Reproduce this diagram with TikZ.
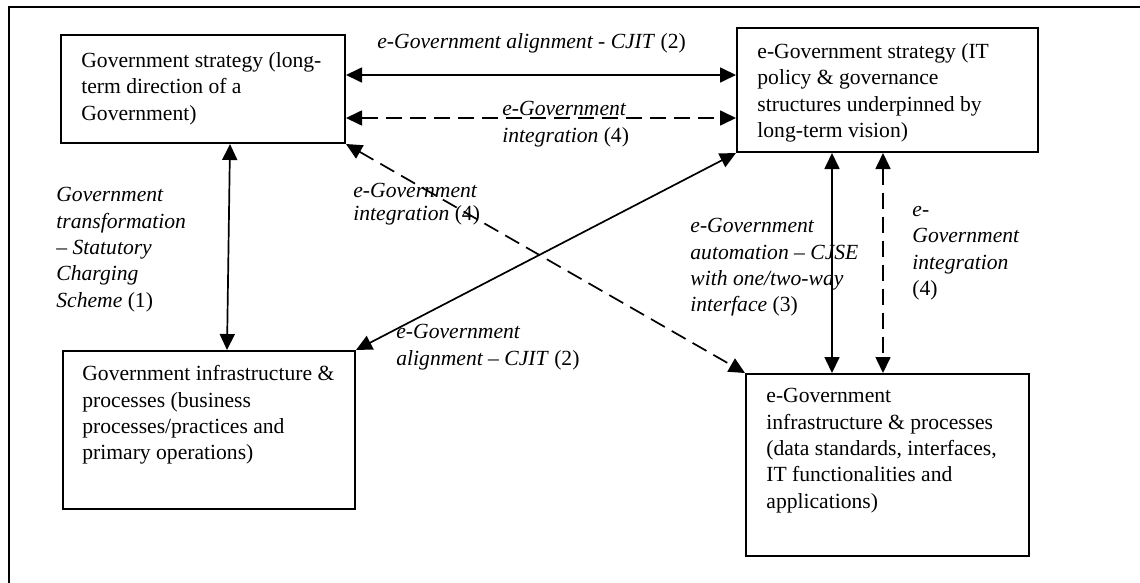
\documentclass[tikz,border=0pt]{standalone}
\usepackage{fontspec}
\setmainfont{Liberation Serif}
\usetikzlibrary{arrows.meta}
\begin{document}
\begin{tikzpicture}[x=0.5pt,y=-0.5pt,
  box/.style={draw,line width=1pt,inner sep=0,rectangle},
  boxtext/.style={anchor=north west,inner sep=0,align=left,font=\fontsize{10.8}{13.2}\selectfont},
  lbl/.style={anchor=north west,inner sep=0,align=left,font=\fontsize{10.8}{13.2}\selectfont\itshape},
  conn/.style={line width=0.85pt,{Triangle[length=8pt,width=7.5pt]}-{Triangle[length=8pt,width=7.5pt]}},
  dconn/.style={conn,dash pattern=on 8pt off 4pt}
]
\useasboundingbox (0,0) rectangle (1140,583);
% outer frame (top and left edges)
\coordinate (fTL) at (9,7);
\coordinate (fTR) at (1140,7);
\coordinate (fBL) at (9,583);
\draw[line width=1.1pt] (fTR) -- (fTL) -- (fBL);

% boxes
\node[box,minimum width=142pt,minimum height=54pt] (A) at (203,89) {};
\node[box,minimum width=150.5pt,minimum height=62pt] (B) at (887.5,90) {};
\node[box,minimum width=146pt,minimum height=79pt] (C) at (209,430) {};
\node[box,minimum width=141.5pt,minimum height=91pt] (D) at (887.5,465) {};

% box texts
\node[boxtext] (At) at ([xshift=10.5pt,yshift=-9pt]A.north west)
  {Government strategy (long-\\term direction of a\\Government)};
\node[boxtext] (Bt) at ([xshift=10.5pt,yshift=-8pt]B.north west)
  {e-Government strategy (IT\\policy \& governance\\structures underpinned by\\long-term vision)};
\node[boxtext] (Ct) at ([xshift=10pt,yshift=-7.5pt]C.north west)
  {Government infrastructure \&\\processes (business\\processes/practices and\\primary operations)};
\node[boxtext] (Dt) at ([xshift=10.5pt,yshift=-7.5pt]D.north west)
  {e-Government\\infrastructure \& processes\\(data standards, interfaces,\\IT functionalities and\\applications)};

% connectors
\draw[conn] ([yshift=7pt]A.east) -- ([yshift=7.5pt]B.west);
\draw[dconn] ([yshift=-14.5pt]A.east) -- ([yshift=-14pt]B.west);
\draw[conn] ([xshift=13.5pt]A.south) -- ([xshift=9pt]C.north);
\draw[conn] (B.south west) -- (C.north east);
\draw[dconn] (A.south east) -- (D.north west);
\draw[conn] ([xshift=-27.75pt]B.south) -- ([xshift=-27.75pt]D.north);
\draw[dconn] ([xshift=-2.25pt]B.south) -- ([xshift=-2.25pt]D.north);

% labels
\node[lbl] (L1) at (377,33) {e-Government alignment - CJIT \textup{(2)}};
\node[lbl] (L2) at (502,101) {e-Government\\integration \textup{(4)}};
\node[lbl,font=\fontsize{10.8}{11.5}\selectfont\itshape] (L3) at (353,183) {e-Government\\integration \textup{(4)}};
\node[lbl] (L4) at (56,187) {Government\\transformation\\– Statutory\\Charging\\Scheme \textup{(1)}};
\node[lbl] (L5) at (396,324) {e-Government\\alignment – CJIT \textup{(2)}};
\node[lbl] (L6) at (690,218) {e-Government\\automation – CJSE\\with one/two-way\\interface \textup{(3)}};
\node[lbl] (L7) at (912,206) {e-\\Government\\integration\\\textup{(4)}};
\end{tikzpicture}
\end{document}
